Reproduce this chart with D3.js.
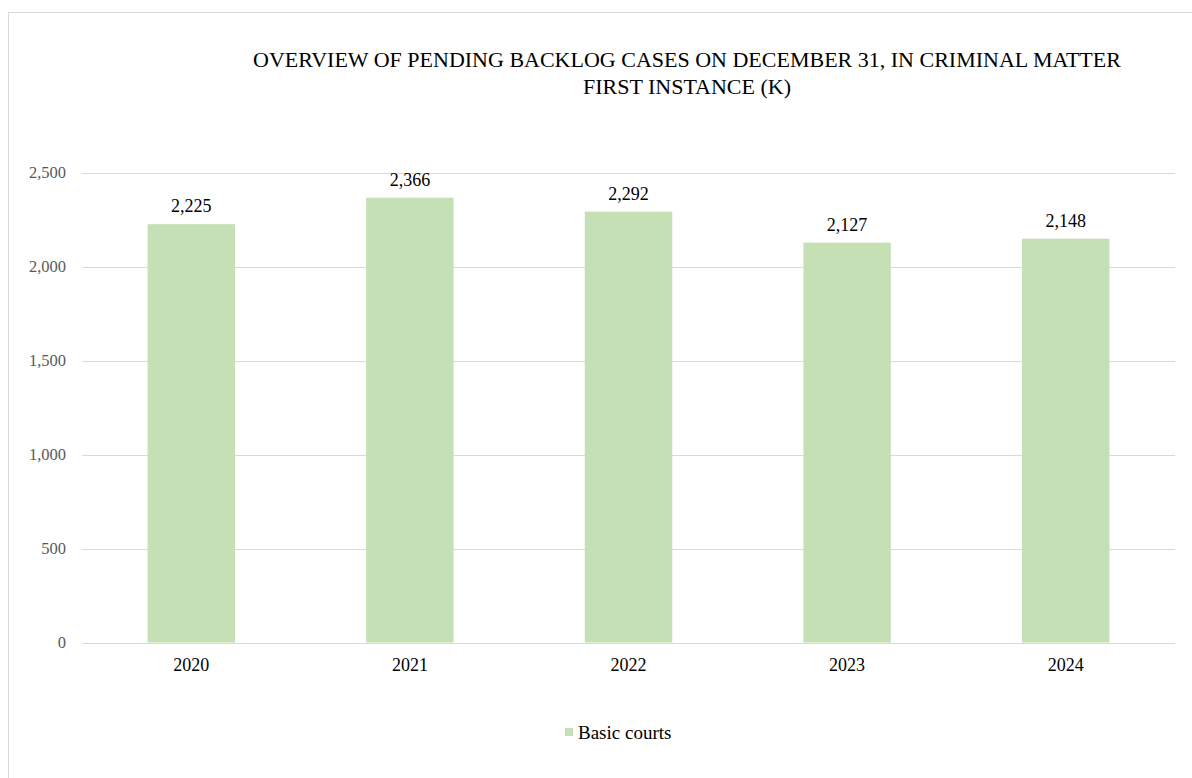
<!DOCTYPE html>
<html><head><meta charset="utf-8">
<script src="https://cdn.jsdelivr.net/npm/d3@7"></script>
<style>body{margin:0;background:#fff}svg{display:block}</style>
</head><body>
<script>
const categories = ["2020","2021","2022","2023","2024"];
const values = [2225, 2366, 2292, 2127, 2148];
const yTicks = [0, 500, 1000, 1500, 2000, 2500];
const seriesName = "Basic courts";
const titleLines = ["OVERVIEW OF PENDING BACKLOG CASES ON DECEMBER 31, IN CRIMINAL MATTER", "FIRST INSTANCE (K)"];

(function () {
const W = 1192, H = 778;
const font = "'Liberation Serif','Times New Roman',serif";
const svg = d3.select("body").append("svg").attr("width", W).attr("height", H);

svg.append("rect").attr("x", 8.5).attr("y", 12.5).attr("width", W).attr("height", H)
  .attr("fill", "#fff").attr("stroke", "#d9d9d9").attr("stroke-width", 1);

const pLeft = 82, pRight = 1175, pTop = 172.5, pBottom = 642.5;
const x = d3.scaleBand().domain(categories).range([pLeft, pRight]).paddingInner(0.6).paddingOuter(0.3);
const y = d3.scaleLinear().domain([0, 2500]).range([pBottom, pTop]);

// gridlines
svg.append("g").selectAll("line").data(yTicks).join("line")
  .attr("x1", pLeft).attr("x2", pRight)
  .attr("y1", d => Math.round(y(d)) + 0.5).attr("y2", d => Math.round(y(d)) + 0.5)
  .attr("stroke", "#d9d9d9").attr("stroke-width", 1);

// y axis labels
const yAxis = d3.axisLeft(y).tickValues(yTicks).tickFormat(d3.format(",")).tickSize(0).tickPadding(16);
const ya = svg.append("g").attr("transform", `translate(${pLeft},0)`).call(yAxis);
ya.select(".domain").remove();
ya.selectAll("text").attr("font-family", font).attr("font-size", 16.5).attr("fill", "#595959");

// bars
svg.append("g").selectAll("rect").data(values).join("rect")
  .attr("x", (d, i) => x(categories[i])).attr("width", x.bandwidth())
  .attr("y", d => y(d)).attr("height", d => y(0) - y(d))
  .attr("fill", "#c5e0b4");

// value labels
svg.append("g").selectAll("text").data(values).join("text")
  .attr("x", (d, i) => x(categories[i]) + x.bandwidth() / 2)
  .attr("y", d => y(d) - 12)
  .attr("text-anchor", "middle").attr("font-family", font).attr("font-size", 18).attr("fill", "#000")
  .text(d3.format(","));

// x axis
const xAxis = d3.axisBottom(x).tickSize(0).tickPadding(16);
const xa = svg.append("g").attr("transform", `translate(0,${pBottom})`).call(xAxis);
xa.select(".domain").remove();
xa.selectAll("text").attr("font-family", font).attr("font-size", 18).attr("fill", "#000");

// title
svg.append("g").selectAll("text").data(titleLines).join("text")
  .attr("x", 687).attr("y", (d, i) => 67 + i * 27)
  .attr("text-anchor", "middle").attr("font-family", font).attr("font-size", 22).attr("fill", "#000")
  .text(d => d);

// legend
const lg = svg.append("g");
lg.append("rect").attr("x", 565).attr("y", 728).attr("width", 8).attr("height", 8).attr("fill", "#c5e0b4");
lg.append("text").attr("x", 578).attr("y", 738.5).attr("font-family", font).attr("font-size", 19).attr("fill", "#000").text(seriesName);
})();
</script>
</body></html>
